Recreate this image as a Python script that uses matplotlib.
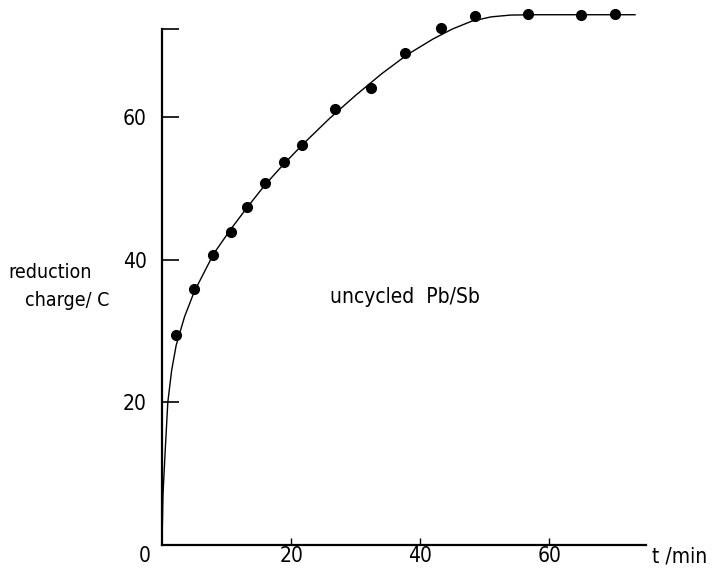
import matplotlib
matplotlib.use("Agg")
import matplotlib.pyplot as plt

# measured points: time (min) vs reduction charge (C)
t_points = [2.2, 5.0, 7.9, 10.7, 13.2, 16.0, 18.9, 21.7, 26.8, 32.4, 37.7, 43.3, 48.5, 56.7, 65.0, 70.2]
q_points = [29.4, 35.9, 40.6, 43.8, 47.3, 50.7, 53.6, 56.0, 61.1, 64.0, 69.0, 72.5, 74.1, 74.4, 74.2, 74.4]

# hand-drawn fit curve
t_curve = [0, 0.15, 0.5, 0.9, 1.5, 2.2, 3.5, 5.0, 8.0, 10.7, 13.2, 16.0, 19.0, 22.0,
           26.0, 30.0, 34.0, 38.0, 42.0, 45.0, 48.0, 51.0, 54.0, 58.0, 66.0, 73.3]
q_curve = [0, 7.0, 13.3, 20.0, 24.5, 28.0, 32.0, 35.5, 40.8, 44.3, 47.3, 50.5, 53.5, 56.3,
           59.8, 63.0, 66.0, 68.7, 70.9, 72.3, 73.4, 74.0, 74.25, 74.3, 74.3, 74.3]

y_ticks = [20, 40, 60]
x_ticks = [20, 40, 60]

plt.rcParams['font.family'] = ['DejaVu Sans']
plt.rcParams['font.stretch'] = 'condensed'

fig = plt.figure(figsize=(7.15, 5.71), dpi=100)
ax = fig.add_axes([162 / 715, 26 / 571, 484 / 715, 516 / 571])

ax.plot(t_curve, q_curve, color="black", lw=1.0, clip_on=False, zorder=2)
ax.plot(t_points, q_points, "o", color="black", ms=7, clip_on=False, zorder=3)

ax.set_xlim(0, 75)
ax.set_ylim(0, 72.3)

for s in ["top", "right"]:
    ax.spines[s].set_visible(False)
for s in ["left", "bottom"]:
    ax.spines[s].set_linewidth(1.6)

ax.set_yticks(y_ticks + [72.3])
ax.set_yticklabels([str(v) for v in y_ticks] + [""])
ax.set_xticks(x_ticks)
ax.set_xticklabels([str(v) for v in x_ticks])
ax.tick_params(axis="y", direction="in", length=12, width=1.2, labelsize=15, pad=11)
ax.tick_params(axis="x", direction="in", length=5, width=1.0, labelsize=15, pad=1)

ax.text(-1.8, -0.2, "0", ha="right", va="top", fontsize=15)
ax.text(76.0, -0.2, "t /min", ha="left", va="top", fontsize=15, clip_on=False)
ax.text(26, 34.7, "uncycled  Pb/Sb", ha="left", va="center", fontsize=15)

fig.text(8 / 715, 1 - 272 / 571, "reduction", ha="left", va="center", fontsize=14)
fig.text(25 / 715, 1 - 300 / 571, "charge/ C", ha="left", va="center", fontsize=14)

fig.savefig("out.png", dpi=100)
